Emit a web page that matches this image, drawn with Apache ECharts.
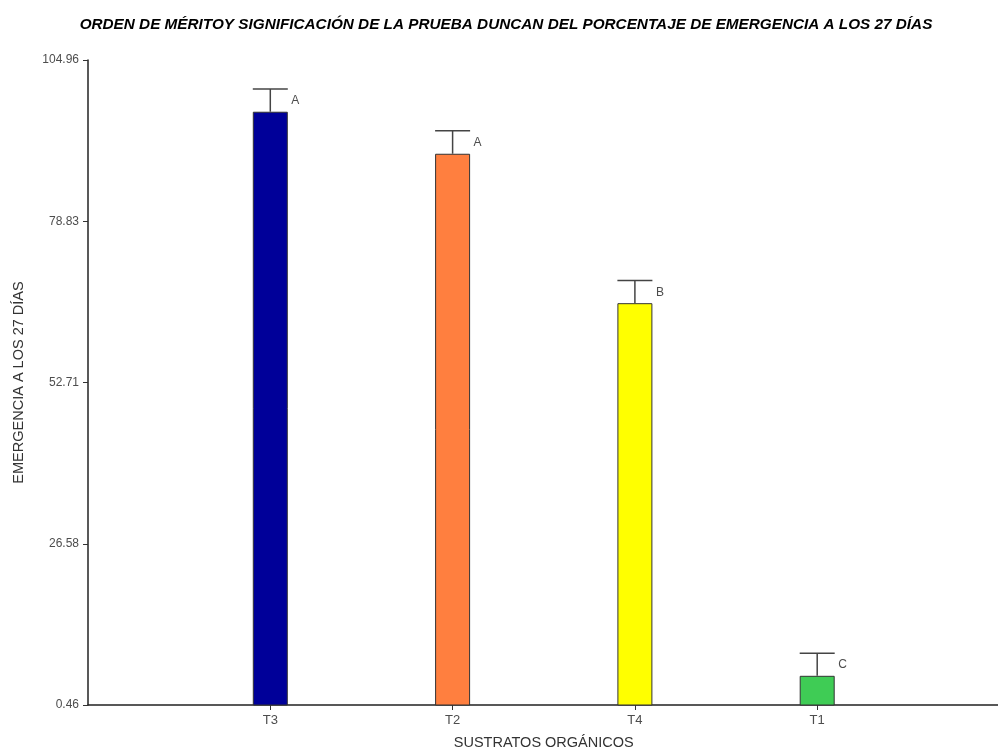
<!DOCTYPE html>
<html>
<head>
<meta charset="utf-8">
<script src="https://cdn.jsdelivr.net/npm/echarts@6/dist/echarts.min.js"></script>
<style>html,body{margin:0;padding:0;background:#fff;}#c{width:998px;height:751px;}</style>
</head>
<body>
<div id="c"></div>
<script>
const categories = ['T3', 'T2', 'T4', 'T1'];
const means = [96.58, 89.77, 65.56, 5.19];
const errors = [3.68, 3.73, 3.68, 3.67];
const groups = ['A', 'A', 'B', 'C'];
const tickValues = [0.46, 26.585, 52.71, 78.835, 104.96];
const tickLabels = ['0.46', '26.58', '52.71', '78.83', '104.96'];
const barColors = ['#000099', '#FF7F3F', '#FFFF00', '#3FCC55'];

const axisCats = [''].concat(categories, ['']);
const chart = echarts.init(document.getElementById('c'), null, {renderer: 'canvas'});
const font = '"Liberation Sans", Arial, sans-serif';

const barData = categories.map((c, i) => ({
  value: [c, means[i]],
  itemStyle: {color: barColors[i]}
}));
const errData = categories.map((c, i) => [c, means[i], means[i] + errors[i], groups[i]]);

chart.setOption({
  animation: false,
  title: {
    text: 'ORDEN DE MÉRITOY SIGNIFICACIÓN DE LA PRUEBA DUNCAN DEL PORCENTAJE DE EMERGENCIA A LOS 27 DÍAS',
    left: 501, top: 12, textAlign: 'center',
    textStyle: {fontFamily: font, fontSize: 15.3, fontWeight: 'bold', fontStyle: 'italic', color: '#000'}
  },
  grid: {left: 88, width: 911.5, top: 60, height: 645, containLabel: false, outerBoundsMode: 'none'},
  xAxis: {
    type: 'category',
    data: axisCats,
    boundaryGap: false,
    name: 'SUSTRATOS ORGÁNICOS',
    nameLocation: 'middle',
    nameGap: 30,
    nameTextStyle: {fontFamily: font, fontSize: 14.5, color: '#333'},
    axisLine: {lineStyle: {color: '#222', width: 1.5}},
    axisTick: {show: true, length: 5, lineStyle: {color: '#333'},
      interval: function (idx, val) { return val !== ''; }},
    axisLabel: {fontFamily: font, fontSize: 13, color: '#4d4d4d', margin: 9,
      interval: function (idx, val) { return val !== ''; }},
    splitLine: {show: false}
  },
  yAxis: {
    type: 'value',
    min: tickValues[0],
    max: tickValues[tickValues.length - 1],
    name: 'EMERGENCIA A LOS 27 DÍAS',
    nameLocation: 'middle',
    nameGap: 62,
    nameRotate: 90,
    nameTextStyle: {fontFamily: font, fontSize: 14.5, color: '#333'},
    axisLine: {show: true, lineStyle: {color: '#222', width: 1.5}},
    axisTick: {show: true, length: 5, lineStyle: {color: '#333'}, customValues: tickValues},
    axisLabel: {fontFamily: font, fontSize: 12, color: '#4d4d4d', margin: 9,
      customValues: tickValues,
      formatter: function (v) {
        let best = 0;
        for (let i = 1; i < tickValues.length; i++) {
          if (Math.abs(tickValues[i] - v) < Math.abs(tickValues[best] - v)) best = i;
        }
        return tickLabels[best];
      }},
    splitLine: {show: false}
  },
  series: [
    {
      type: 'bar',
      data: barData,
      barWidth: 35,
      itemStyle: {borderColor: '#333', borderWidth: 1},
      z: 2
    },
    {
      type: 'custom',
      data: errData,
      z: 3,
      renderItem: function (params, api) {
        const top = api.coord([api.value(0), api.value(2)]);
        const base = api.coord([api.value(0), api.value(1)]);
        const half = 17.5;
        return {
          type: 'group',
          children: [
            {type: 'line', shape: {x1: base[0], y1: base[1], x2: top[0], y2: top[1]},
              style: {stroke: '#444', lineWidth: 1.5}},
            {type: 'line', shape: {x1: top[0] - half, y1: top[1], x2: top[0] + half, y2: top[1]},
              style: {stroke: '#444', lineWidth: 1.5}},
            {type: 'text', x: top[0] + 21, y: top[1] + 12,
              style: {text: api.value(3), fontFamily: font, fontSize: 12, fill: '#4d4d4d',
                align: 'left', verticalAlign: 'middle'}}
          ]
        };
      }
    }
  ]
});
</script>
</body>
</html>
